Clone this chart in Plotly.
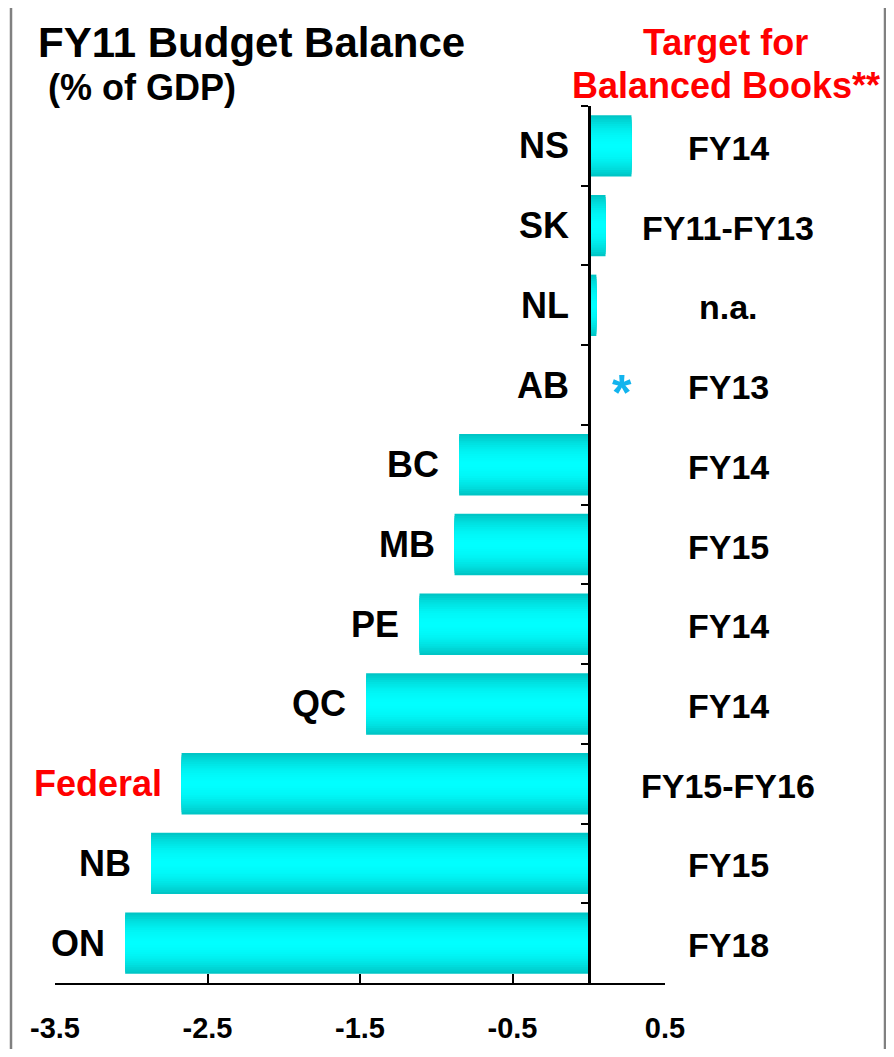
import plotly.graph_objects as go

# ---- data ----
categories = ["NS", "SK", "NL", "AB", "BC", "MB", "PE", "QC", "Federal", "NB", "ON"]
balance = [0.28, 0.11, 0.05, 0.0, -0.85, -0.88, -1.11, -1.46, -2.67, -2.87, -3.04]
targets = ["FY14", "FY11-FY13", "n.a.", "FY13", "FY14", "FY15", "FY14", "FY14",
           "FY15-FY16", "FY15", "FY18"]
tick_values = [-3.5, -2.5, -1.5, -0.5, 0.5]
tick_labels = ["-3.5", "-2.5", "-1.5", "-0.5", "0.5"]
x_range = [-3.5, 0.5]
asterisk_category = "AB"

# ---- layout geometry (reference-page pixels) ----
PAGE_W, PAGE_H = 894, 1057
OFF = 8                           # default body margin of the html page
W, H = PAGE_W - 2 * OFF, PAGE_H - 2 * OFF   # keep the page from overflowing
L, R, T, B = 55, 665, 106, 983    # plot-area edges on the page


def px(xp):
    return (xp - L) / (R - L)


def py(yp):
    return (B - yp) / (B - T)


FONT = "Liberation Sans, Arial, sans-serif"

fig = go.Figure()

# gradient bars as stacked overlay layers of decreasing thickness
n_layers = 14
bar_w = 0.77
for i in range(n_layers):
    f = 1 - i / n_layers
    v = int(round(255 - 57 * f ** 2))
    fig.add_trace(go.Bar(
        y=categories, x=balance, orientation="h",
        width=bar_w * f,
        marker=dict(color=f"rgb(0,{v},{v})", line=dict(width=0)),
        showlegend=False, hoverinfo="skip",
    ))

annotations = []
# category labels left of bars
for c, v in zip(categories, balance):
    annotations.append(dict(
        x=min(v, 0), y=c, xref="x", yref="y", text=f"<b>{c}</b>",
        xanchor="right", yanchor="middle", xshift=-18, showarrow=False,
        font=dict(family=FONT, size=36, color="#FF0000" if c == "Federal" else "#000000"),
    ))
# target labels on the right
for c, t in zip(categories, targets):
    annotations.append(dict(
        x=px(728), y=c, xref="paper", yref="y", text=f"<b>{t}</b>",
        xanchor="center", yanchor="middle", yshift=-2, showarrow=False,
        font=dict(family=FONT, size=34, color="#000000"),
    ))
# asterisk
annotations.append(dict(
    x=0, y=asterisk_category, xref="x", yref="y", text="<b>*</b>",
    xanchor="center", yanchor="middle", xshift=33, yshift=-8, showarrow=False,
    font=dict(family=FONT, size=50, color="#12B4EE"),
))
# titles
annotations += [
    dict(x=px(36), y=py(42), xref="paper", yref="paper", text="<b>FY11 Budget Balance</b>",
         xanchor="left", yanchor="middle", showarrow=False,
         font=dict(family=FONT, size=42, color="#000000")),
    dict(x=px(46), y=py(88), xref="paper", yref="paper", text="<b>(% of GDP)</b>",
         xanchor="left", yanchor="middle", showarrow=False,
         font=dict(family=FONT, size=36, color="#000000")),
    dict(x=px(725), y=py(42), xref="paper", yref="paper", text="<b>Target for</b>",
         xanchor="center", yanchor="middle", showarrow=False,
         font=dict(family=FONT, size=36, color="#FF0000")),
    dict(x=px(726), y=py(85), xref="paper", yref="paper", text="<b>Balanced Books**</b>",
         xanchor="center", yanchor="middle", showarrow=False,
         font=dict(family=FONT, size=36, color="#FF0000")),
]

zero_pos = (0 - x_range[0]) / (x_range[1] - x_range[0])

fig.update_layout(
    template="none",
    width=W, height=H,
    margin=dict(l=L - OFF, r=W - (R - OFF), t=T - OFF, b=H - (B - OFF), pad=0,
                autoexpand=False),
    paper_bgcolor="white", plot_bgcolor="white",
    barmode="overlay", showlegend=False,
    annotations=annotations,
    xaxis=dict(
        range=x_range, showgrid=False, zeroline=False, automargin=False,
        showline=True, linecolor="#000000", linewidth=2,
        ticks="inside", ticklen=9, tickwidth=2, tickcolor="#000000",
        tickvals=tick_values, ticktext=[f"<b>{t}</b>" for t in tick_labels],
        tickfont=dict(family=FONT, size=29, color="#000000"),
        ticklabelstandoff=18, fixedrange=True,
    ),
    yaxis=dict(
        autorange="reversed", showgrid=False, zeroline=False, automargin=False,
        anchor="free", position=zero_pos, side="left",
        showline=True, linecolor="#000000", linewidth=2.5,
        ticks="outside", tickson="boundaries", ticklen=7, tickwidth=2,
        tickcolor="#000000", showticklabels=False, fixedrange=True,
    ),
    shapes=[dict(
        type="rect", xref="paper", yref="paper",
        x0=px(11), x1=px(885), y0=py(1075), y1=py(6),
        line=dict(color="#808080", width=2.5), fillcolor="rgba(0,0,0,0)",
    )],
)

fig.write_html("out.html")
